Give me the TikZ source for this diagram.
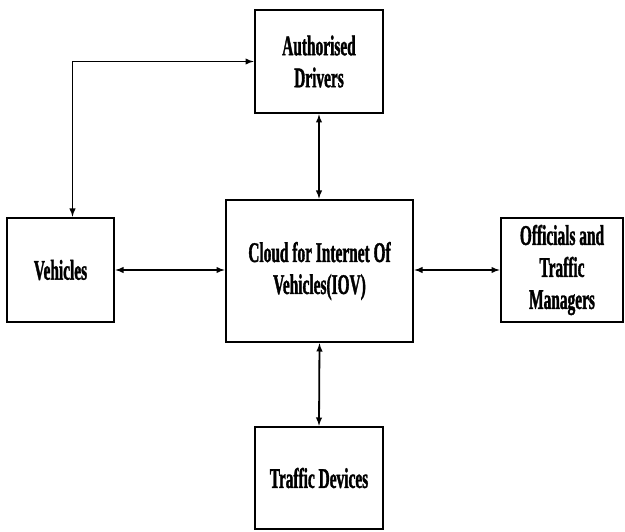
\documentclass[tikz,border=0pt]{standalone}
\usepackage{fontspec}
\newfontfamily\condfont{Liberation Serif}[FakeStretch=0.54,FakeBold=1.2]
\usepackage{tikz}

\tikzset{
  block/.style={draw, line width=2.6pt, align=center, inner sep=2pt,
    font=\condfont\bfseries\fontsize{28.5}{32}\selectfont},
  link/.style={latex-latex, line width=1.8pt}
}

\begin{document}
\begin{tikzpicture}[x=1pt,y=-1pt]
  \useasboundingbox (0,0) rectangle (625,532);
  \node[block, minimum width=128pt, minimum height=103pt] (drivers) at (319,61.5) {Authorised\\Drivers};
  \node[block, minimum width=107pt, minimum height=104pt] (vehicles) at (60.5,270) {Vehicles};
  \node[block, minimum width=187pt, minimum height=142pt] (cloud) at (319.5,271) {Cloud for Internet Of\\Vehicles(IOV)};
  \node[block, minimum width=122pt, minimum height=104pt] (officials) at (562,270) {Officials and\\Traffic\\Managers};
  \node[block, minimum width=128pt, minimum height=102pt] (traffic) at (319,478) {Traffic Devices};

  \draw[link] ([xshift=12pt]vehicles.north) |- (drivers.west);
  \draw[link] (drivers.south) -- (drivers.south |- cloud.north);
  \draw[link] (vehicles.east) -- (vehicles.east -| cloud.west);
  \draw[link] (cloud.east |- officials.west) -- (officials.west);
  \draw[link] (cloud.south) -- (traffic.north);
\end{tikzpicture}
\end{document}
